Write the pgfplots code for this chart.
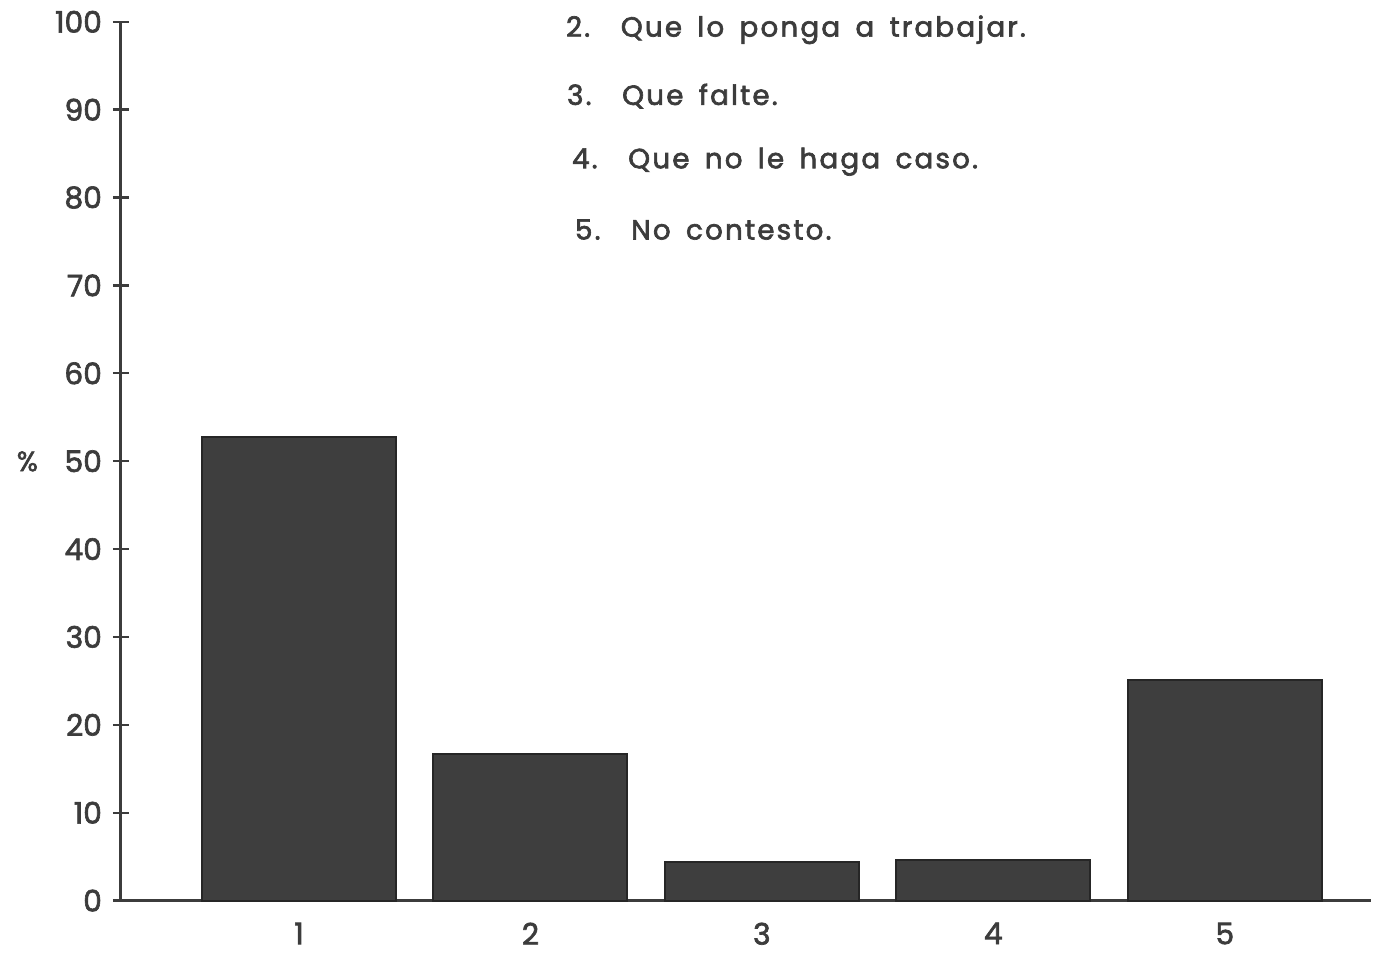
\documentclass[border=0pt]{standalone}
\usepackage{pgfplots}
\pgfplotsset{compat=1.18}
\usepackage{fontspec}
\setmainfont{Poppins}[FakeBold=1.6]
\newfontfamily\heavy[FakeBold=2.2]{Poppins}
\newfontfamily\spaced[LetterSpace=8,WordSpace=1.6,FakeBold=2.4]{Poppins}
\definecolor{barfill}{RGB}{62,62,62}
\definecolor{ink}{RGB}{60,60,60}
\begin{document}
\begin{tikzpicture}
% frame: reference proportions 1396x960, a little room under the x labels
\useasboundingbox (-61pt,-30pt) rectangle (644.3pt,455pt);
\begin{axis}[
    scale only axis,
    width=631.5pt,
    height=444pt,
    xmin=0.23, xmax=5.63,
    ymin=0, ymax=100,
    axis lines*=left,
    axis line style={ink, line width=1.5pt},
    ytick={0,10,...,100},
    xtick={1,2,3,4,5},
    xticklabels={1,2,3,4,5},
    major tick length=8pt,
    tick align=center,
    ytick style={ink, line width=1.2pt},
    xtick style={draw=none},
    tick label style={font=\heavy\fontsize{15}{17}\selectfont, text=ink},
    /pgf/number format/assume math mode=true,
    yticklabel style={xshift=-2pt},
    xticklabel style={inner sep=1pt, yshift=-2pt},
    ybar,
    bar width=98pt,
    clip=false,
]
\addplot[fill=barfill, draw=black!85, line width=1pt] coordinates {
    (1,52.8) (2,16.7) (3,4.4) (4,4.6) (5,25.1)
};
\end{axis}
\begin{scope}[every node/.style={anchor=base west, text=ink, font=\spaced\fontsize{14}{16}\selectfont}]
\node at (221.5pt,436.5pt) {2.\ \ Que lo ponga a trabajar.};
\node at (222pt,402pt) {3.\ \ Que falte.};
\node at (224.5pt,370pt) {4.\ \ Que no le haga caso.};
\node at (226pt,334pt) {5.\ \ No contesto.};
\end{scope}
\node[anchor=base west, text=ink, font=\heavy\fontsize{14}{16}\selectfont] at (-56pt,217pt) {\%};
\end{tikzpicture}
\end{document}
